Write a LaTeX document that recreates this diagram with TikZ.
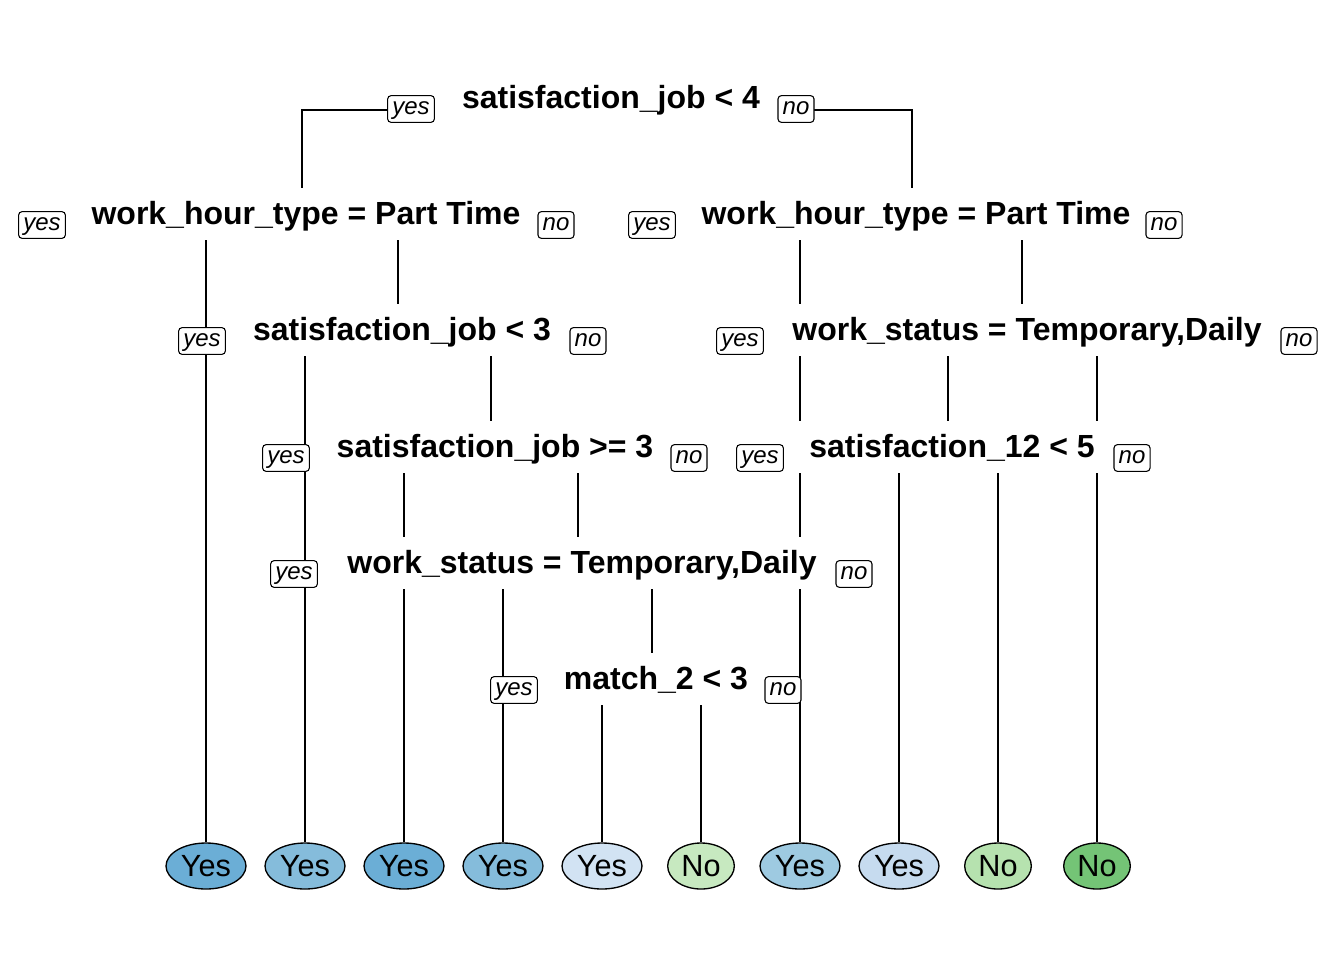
\documentclass[tikz,border=0pt]{standalone}
\usepackage{fontspec}
\setmainfont{Liberation Sans}
\usepackage{tikz}
\usetikzlibrary{shapes.geometric}

\definecolor{leafA}{HTML}{6BAED6}
\definecolor{leafB}{HTML}{85BCDB}
\definecolor{leafC}{HTML}{D2E3F3}
\definecolor{leafD}{HTML}{C7E9C0}
\definecolor{leafE}{HTML}{9ECAE1}
\definecolor{leafF}{HTML}{C6DBEF}
\definecolor{leafG}{HTML}{B6E2AF}
\definecolor{leafH}{HTML}{74C476}

\begin{document}
\begin{tikzpicture}[x=0.75pt,y=0.75pt,yscale=-1,xscale=1,
  branch/.style={line width=1.1pt},
  splitlab/.style={anchor=base, fill=white, font=\fontsize{24}{28}\selectfont\bfseries,
    inner xsep=18pt, inner ysep=0pt, text height=27pt, text depth=12pt},
  yesno/.style={draw, fill=white, rounded corners=2.5pt, line width=0.8pt,
    font=\fontsize{18}{20}\selectfont\itshape, inner xsep=3.5pt, inner ysep=3pt,
    text height=11pt, text depth=3pt},
  leaf/.style={ellipse, draw, line width=1pt, minimum width=60pt, minimum height=34.5pt,
    inner sep=0pt, font=\fontsize{23}{26}\selectfont},
  leafno/.style={leaf, minimum width=50pt}]
\useasboundingbox (0,0) rectangle (1344,960);

% split points
\coordinate (n1) at (607,110);
\coordinate (n2) at (302,224);
\coordinate (n3) at (912,224);
\coordinate (n4) at (398,340);
\coordinate (n5) at (1022,340);
\coordinate (n6) at (491,457);
\coordinate (n7) at (948,457);
\coordinate (n8) at (578,573);
\coordinate (n9) at (652,689);

% leaves
\node[leaf, fill=leafA] (leaf1) at (206,866) {Yes};
\node[leaf, fill=leafB] (leaf2) at (305,866) {Yes};
\node[leaf, fill=leafA] (leaf3) at (404,866) {Yes};
\node[leaf, fill=leafB] (leaf4) at (503,866) {Yes};
\node[leaf, fill=leafC] (leaf5) at (602,866) {Yes};
\node[leafno, fill=leafD] (leaf6) at (701,866) {No};
\node[leaf, fill=leafE] (leaf7) at (800,866) {Yes};
\node[leaf, fill=leafF] (leaf8) at (899,866) {Yes};
\node[leafno, fill=leafG] (leaf9) at (998,866) {No};
\node[leafno, fill=leafH] (leaf10) at (1097,866) {No};

% branches
\draw[branch] (n1) -| (n2);
\draw[branch] (n1) -| (n3);
\draw[branch] (n2) -| (leaf1);
\draw[branch] (n2) -| (n4);
\draw[branch] (n4) -| (leaf2);
\draw[branch] (n4) -| (n6);
\draw[branch] (n6) -| (leaf3);
\draw[branch] (n6) -| (n8);
\draw[branch] (n8) -| (leaf4);
\draw[branch] (n8) -| (n9);
\draw[branch] (n9) -| (leaf5);
\draw[branch] (n9) -| (leaf6);
\draw[branch] (n3) -| (leaf7);
\draw[branch] (n3) -| (n5);
\draw[branch] (n5) -| (n7);
\draw[branch] (n5) -| (leaf10);
\draw[branch] (n7) -| (leaf8);
\draw[branch] (n7) -| (leaf9);

% split labels
\node[splitlab, inner xsep=26pt] (s1) at (611,108) {satisfaction\_job < 4};
\node[splitlab] (s2) at (306,224) {work\_hour\_type = Part Time};
\node[splitlab] (s3) at (916,224) {work\_hour\_type = Part Time};
\node[splitlab] (s4) at (402,340) {satisfaction\_job < 3};
\node[splitlab] (s5) at (1027,340) {work\_status = Temporary,Daily};
\node[splitlab] (s6) at (495,457) {satisfaction\_job >= 3};
\node[splitlab] (s7) at (952,457) {satisfaction\_12 < 5};
\node[splitlab] (s8) at (582,573) {work\_status = Temporary,Daily};
\node[splitlab] (s9) at (656,689) {match\_2 < 3};

% yes / no tags
\node[yesno] (y1) at (411,109) {yes};
\node[yesno] (o1) at (796,109) {no};
\node[yesno] (y2) at (42,225) {yes};
\node[yesno] (o2) at (556,225) {no};
\node[yesno] (y3) at (652,225) {yes};
\node[yesno] (o3) at (1164,225) {no};
\node[yesno] (y4) at (202,341) {yes};
\node[yesno] (o4) at (588,341) {no};
\node[yesno] (y5) at (740,341) {yes};
\node[yesno] (o5) at (1299,341) {no};
\node[yesno] (y6) at (286,458) {yes};
\node[yesno] (o6) at (689,458) {no};
\node[yesno] (y7) at (760,458) {yes};
\node[yesno] (o7) at (1132,458) {no};
\node[yesno] (y8) at (294,574) {yes};
\node[yesno] (o8) at (854,574) {no};
\node[yesno] (y9) at (514,690) {yes};
\node[yesno] (o9) at (783,690) {no};

\end{tikzpicture}
\end{document}
